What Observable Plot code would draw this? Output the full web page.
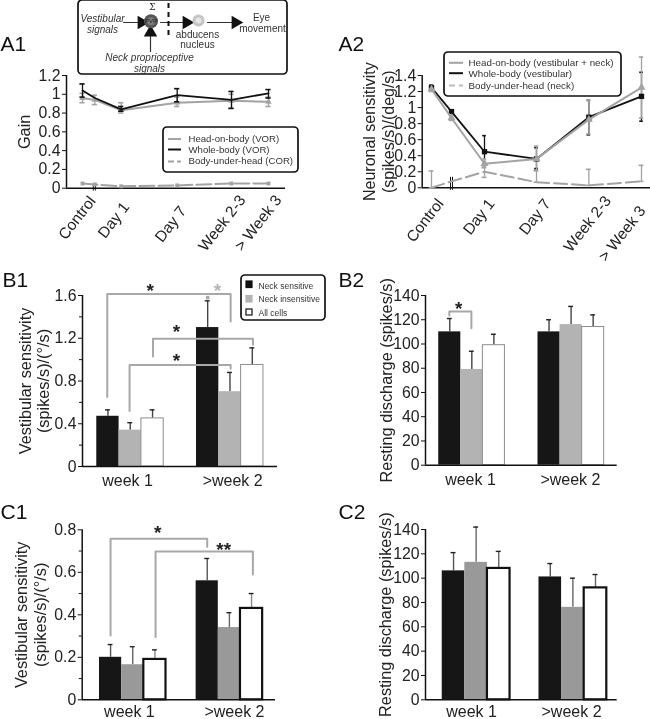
<!DOCTYPE html>
<html>
<head>
<meta charset="utf-8">
<script src="https://cdn.jsdelivr.net/npm/d3@7"></script>
<script src="https://cdn.jsdelivr.net/npm/@observablehq/plot@0.6"></script>
<style>
html,body{margin:0;padding:0;background:#fff}
#page{position:relative;width:650px;height:719px;overflow:hidden;font-family:"Liberation Sans",Arial,sans-serif;filter:blur(0.35px)}
#page svg{position:absolute;max-width:none;overflow:visible}
</style>
</head>
<body>
<div id="page"></div>
<script>
// ---------- DATA: time-course panels (x = session position along the axis)
const sessions = ["Control","Day 1","Day 7","Week 2-3","> Week 3"];

const a1Time   = [16, 28.3, 54.7, 110.7, 165, 202];
const a1Whole  = [1.04, 0.96, 0.84, 0.99, 0.94, 1.01];
const a1WholeHi= [1.11, null, 0.87, 1.06, 1.03, 1.05];
const a1WholeLo= [0.97, null, 0.82, 0.92, 0.85, 0.96];
const a1Head   = [0.96, 0.94, 0.83, 0.91, 0.93, 0.92];
const a1HeadHi = [1.01, 0.99, 0.91, 0.97, 1.00, 0.97];
const a1HeadLo = [0.91, 0.89, 0.80, 0.87, 0.85, 0.87];
const a1Body   = [0.05, 0.04, 0.02, 0.03, 0.05, 0.05];

const a2Time   = [9.3, 29.3, 62.3, 114.3, 166.6, 219.3];
const a2Whole  = [1.25, 0.95, 0.45, 0.36, 0.88, 1.14];
const a2WholeHi= [1.28, 0.97, 0.65, 0.50, 1.09, 1.44];
const a2WholeLo= [1.22, 0.93, 0.30, 0.24, 0.66, 0.83];
const a2Head   = [1.23, 0.87, 0.30, 0.36, 0.85, 1.25];
const a2HeadHi = [1.26, 0.90, 0.36, 0.52, 1.09, 1.63];
const a2HeadLo = [1.20, 0.84, 0.26, 0.21, 0.67, 0.87];
const a2Body   = [0.00, 0.08, 0.20, 0.07, 0.03, 0.08];
const a2BodyHi = [0.21, null, 0.25, 0.22, 0.23, 0.28];
const a2BodyLo = [0.00, null, 0.13, 0.07, 0.03, 0.08];

// ---------- DATA: bar panels (order: sensitive, insensitive, all; week 1 then >week 2)
const groups = ["week 1", ">week 2"];
const b1Means = [0.47, 0.34, 0.45, 1.30, 0.70, 0.95];
const b1Tops  = [0.53, 0.41, 0.53, 1.55, 0.88, 1.11];
const b2Means = [110, 79, 99, 110, 116, 114];
const b2Tops  = [121, 94, 108, 120, 131, 124];
const c1Means = [0.20, 0.165, 0.19, 0.56, 0.34, 0.43];
const c1Tops  = [0.26, 0.25, 0.235, 0.665, 0.41, 0.50];
const c2Means = [106, 113, 108, 101, 76, 92];
const c2Tops  = [121, 142, 122, 112, 100, 103];

// significance brackets: [slot, value] polylines
const b1Brackets = [
  [[0.47,0.65],[0.47,1.615],[6,1.615],[6,1.357]],
  [[2.52,1.03],[2.52,1.195],[7,1.195],[7,1.14]],
  [[1.47,0.52],[1.47,0.95],[6,0.95],[6,0.914]]
];
const b1Stars = [[2.4,1.68,"*","#222"],[5.41,1.68,"*","#b5b5b5"],[3.57,1.3,"*","#222"],[3.57,1.03,"*","#222"]];
const b2Brackets = [[[0.48,123.5],[0.48,126.8],[1.48,126.8],[1.48,113]]];
const b2Stars = [[0.9,132,"*","#222"]];
const c1Brackets = [
  [[0.5,0.303],[0.5,0.758],[4.86,0.758],[4.86,0.72]],
  [[2.53,0.295],[2.53,0.698],[6.92,0.698],[6.92,0.59]]
];
const c1Stars = [[2.63,0.805,"*","#222"],[5.6,0.726,"**","#222"]];

// ---------- LEGEND TEXT
const a1Legend = ["Head-on-body (VOR)","Whole-body (VOR)","Body-under-head (COR)"];
const a2Legend = ["Head-on-body (vestibular + neck)","Whole-body (vestibular)","Body-under-head (neck)"];
const bLegend  = ["Neck sensitive","Neck insensitive","All cells"];

// ---------- helpers
const INK = "#222", GRAY = "#a3a3a3";
const page = document.getElementById("page");
function panel(box, frame, xDomain, yDomain, marks){
  const [bx,by,bw,bh] = box, [l,r,t,b] = frame;
  const svg = Plot.plot({
    width:bw, height:bh,
    marginLeft:l-bx, marginRight:bx+bw-r, marginTop:t-by, marginBottom:by+bh-b,
    x:{domain:xDomain, axis:null}, y:{domain:yDomain, axis:null},
    style:{background:"transparent", fontFamily:'"Liberation Sans",Arial,sans-serif', color:INK},
    marks
  });
  svg.style.left = bx+"px"; svg.style.top = by+"px";
  page.appendChild(svg);
}
const str = d => String(d);
function yAxisMarks(xDomain, yDomain, labelled, minor, fs=15.8){
  return [
    Plot.ruleX([xDomain[0]],{y1:yDomain[0],y2:yDomain[1],stroke:"#111",strokeWidth:1.5}),
    Plot.ruleY([0],{x1:xDomain[0],x2:xDomain[1],stroke:"#111",strokeWidth:1.5}),
    Plot.axisY({ticks:labelled,tickFormat:str,tickSize:4,tickPadding:2,fontSize:fs,stroke:"#111",fill:INK,label:null}),
    ...(minor.length?[Plot.axisY({ticks:minor,tickFormat:()=>"",tickSize:3,stroke:"#111",label:null})]:[])
  ];
}
function yTitle(text, dx, fs=16.3){
  return Plot.text([text],{text:d=>d,frameAnchor:"left",textAnchor:"middle",rotate:-90,dx,fontSize:fs,fill:INK,lineHeight:1.15});
}
function errBars(xs, hi, lo, stroke, capW, sw=1.3){
  const d = xs.map((x,i)=>({x,hi:hi[i],lo:lo[i]})).filter(e=>e.hi!=null);
  return [
    Plot.ruleX(d,{x:"x",y1:"lo",y2:"hi",stroke,strokeWidth:sw}),
    Plot.ruleY(d,{y:"hi",x1:e=>e.x-capW,x2:e=>e.x+capW,stroke,strokeWidth:sw+.3}),
    Plot.ruleY(d,{y:"lo",x1:e=>e.x-capW,x2:e=>e.x+capW,stroke,strokeWidth:sw+.3})
  ];
}
function sessionLabels(xs, dxs, dys){
  return sessions.map((s,i)=>Plot.text([s],{x:()=>xs[i],y:()=>0,text:d=>d,rotate:-52,textAnchor:"end",dx:dxs[i],dy:dys[i],fontSize:15.5,fill:INK}));
}
function lineOf(xs, ys){ return xs.map((x,i)=>({x,y:ys[i]})); }

function barMarks(means, tops, slots, errColors, grayFill, whiteStroke, whiteWidth){
  const rows = means.map((m,i)=>({m,t:tops[i],s:slots[i],k:i%3}));
  return [
    ...rows.map(r=>Plot.ruleX([r],{x:d=>d.s+.5,y1:"m",y2:"t",stroke:errColors[r.k],strokeWidth:1.4})),
    ...rows.map(r=>Plot.ruleY([r],{y:"t",x1:d=>d.s+.39,x2:d=>d.s+.61,stroke:"#222",strokeWidth:1.4})),
    Plot.rect(rows.filter(r=>r.k===0),{x1:"s",x2:d=>d.s+1,y1:()=>0,y2:"m",fill:"#161616"}),
    Plot.rect(rows.filter(r=>r.k===1),{x1:"s",x2:d=>d.s+1,y1:()=>0,y2:"m",fill:grayFill}),
    Plot.rect(rows.filter(r=>r.k===2),{x1:"s",x2:d=>d.s+1,y1:()=>0,y2:"m",fill:"#fff",stroke:whiteStroke,strokeWidth:whiteWidth})
  ];
}
function bracketMarks(brackets, stars){
  return [
    ...brackets.map(b=>Plot.line(b.map(p=>({x:p[0],y:p[1]})),{x:"x",y:"y",stroke:"#a8a8a8",strokeWidth:2,curve:"linear"})),
    ...stars.map(s=>Plot.text([s],{x:d=>d[0],y:d=>d[1],text:d=>d[2],fill:s[3],fontSize:19,fontWeight:"bold",dy:4}))
  ];
}
function groupAxis(slots, pad, fs=16){
  return Plot.axisX({ticks:slots,tickFormat:(d,i)=>groups[i],tickSize:0,tickPadding:pad,fontSize:fs,fill:INK,label:null,anchor:"bottom"});
}

// ---------- A1
{
  const xd=[0,219], yd=[0,1.2];
  panel([0,60,325,205],[66,285,75,187.7],xd,yd,[
    ...yAxisMarks(xd,yd,[0,0.2,0.4,0.6,0.8,1,1.2],[]),
    yTitle("Gain",-43),
    Plot.ruleX([26.8,28.8],{y1:-0.03,y2:0.04,stroke:"#111",strokeWidth:1}),
    ...errBars(a1Time,a1HeadHi,a1HeadLo,GRAY,2.6),
    Plot.line(lineOf(a1Time,a1Head),{x:"x",y:"y",stroke:GRAY,strokeWidth:2}),
    Plot.dot(lineOf(a1Time,a1Head),{x:"x",y:"y",symbol:"triangle",r:2.4,fill:GRAY}),
    ...errBars(a1Time,a1WholeHi,a1WholeLo,"#111",2.6),
    Plot.line(lineOf(a1Time,a1Whole),{x:"x",y:"y",stroke:"#111",strokeWidth:1.8}),
    Plot.line(lineOf(a1Time,a1Body),{x:"x",y:"y",stroke:GRAY,strokeWidth:2,strokeDasharray:"15,4"}),
    Plot.dot(lineOf(a1Time,a1Body),{x:"x",y:"y",symbol:"square",r:2.2,fill:GRAY}),
    ...sessionLabels([a1Time[0],a1Time[2],a1Time[3],a1Time[4],a1Time[5]],[10,5,6,11,10],[10,16,20,9,9])
  ]);
}
// ---------- A2
{
  const xd=[0,228.3], yd=[0,1.4];
  panel([325,40,325,225],[421.7,650,75,187.3],xd,yd,[
    ...yAxisMarks(xd,yd,[0,0.2,0.4,0.6,0.8,1,1.2,1.4],[]),
    yTitle("Neuronal sensitivity\n(spikes/s)/(deg/s)",-43.7,16),
    Plot.ruleX([28.3,30.3],{y1:-0.03,y2:0.13,stroke:"#111",strokeWidth:1}),
    ...errBars(a2Time,a2BodyHi,a2BodyLo,GRAY,2.4),
    Plot.line(lineOf(a2Time,a2Body),{x:"x",y:"y",stroke:GRAY,strokeWidth:2,strokeDasharray:"13,5"}),
    ...errBars(a2Time,a2WholeHi,a2WholeLo,"#111",1.8),
    ...errBars(a2Time,a2HeadHi,a2HeadLo,GRAY,2.2),
    Plot.line(lineOf(a2Time,a2Whole),{x:"x",y:"y",stroke:"#111",strokeWidth:1.8}),
    Plot.dot(lineOf(a2Time,a2Whole),{x:"x",y:"y",symbol:"square",r:3,fill:"#111"}),
    Plot.line(lineOf(a2Time,a2Head),{x:"x",y:"y",stroke:GRAY,strokeWidth:2}),
    Plot.dot(lineOf(a2Time,a2Head),{x:"x",y:"y",symbol:"triangle",r:3,fill:GRAY}),
    ...sessionLabels([a2Time[0],a2Time[2],a2Time[3],a2Time[4],a2Time[5]],[9,7,11,19,1],[13,13,13,10,20])
  ]);
}
// ---------- B1
{
  const xd=[-0.64,8.1], yd=[0,1.6];
  const slots=[0,1,2,4.47,5.47,6.47];
  panel([0,265,325,225],[82,277,295,466],xd,yd,[
    ...barMarks(b1Means,b1Tops,slots,["#444","#444","#444"],"#b3b3b3","#8c8c8c",1),
    ...yAxisMarks(xd,yd,[0,0.4,0.8,1.2,1.6],[0.2,0.6,1,1.4]),
    yTitle("Vestibular sensitivity\n(spikes/s)/(°/s)",-48.5),
    groupAxis([1.38,6.09],8),
    Plot.dot([{x:4.97,y:1.58}],{x:"x",y:"y",symbol:"square",r:2,fill:"#aaa"}),
    ...bracketMarks(b1Brackets,b1Stars)
  ]);
}
// ---------- B2
{
  const xd=[-0.6,8.09], yd=[0,140];
  const slots=[0,1,2,4.5,5.5,6.5];
  panel([325,265,325,225],[425,616.7,295,464.7],xd,yd,[
    ...barMarks(b2Means,b2Tops,slots,["#444","#444","#444"],"#b3b3b3","#8c8c8c",1),
    ...yAxisMarks(xd,yd,[0,20,40,60,80,100,120,140],[]),
    yTitle("Resting discharge (spikes/s)",-40),
    groupAxis([1.44,5.97],8),
    ...bracketMarks(b2Brackets,b2Stars)
  ]);
}
// ---------- C1
{
  const xd=[-0.78,7.94], yd=[0,0.8];
  const slots=[0,1,2,4.36,5.36,6.36];
  panel([0,495,325,224],[81.7,275,529.3,699.3],xd,yd,[
    ...barMarks(c1Means,c1Tops,slots,["#555","#666","#888"],"#999","#111",2.2),
    ...yAxisMarks(xd,yd,[0,0.2,0.4,0.6,0.8],[0.1,0.3,0.5,0.7]),
    yTitle("Vestibular sensitivity\n(spikes/s)/(°/s)",-51.7),
    groupAxis([1.35,6.09],6),
    ...bracketMarks(c1Brackets,c1Stars)
  ]);
}
// ---------- C2
{
  const xd=[-0.74,7.74], yd=[0,140];
  const slots=[0,1,2,4.28,5.28,6.28];
  panel([325,495,325,224],[425,616.7,529,699.3],xd,yd,[
    ...barMarks(c2Means,c2Tops,slots,["#555","#666","#666"],"#999","#111",2.2),
    ...yAxisMarks(xd,yd,[0,20,40,60,80,100,120,140],[]),
    yTitle("Resting discharge (spikes/s)",-41),
    groupAxis([1.3,5.72],6),
  ]);
}

// ---------- annotation layer: panel letters, schematic, legends (page coordinates)
const panelLetters = [["A1",0,50],["A2",338,50],["B1",2,286],["B2",338,286],["C1",0,518],["C2",338,518]];
const boxes = [[78,0,287,74],[163,127,298,172],[444,52,621,96],[241,275,325,320]];
const schematicText = [
  ["Vestibular",102,18,"italic"],["signals",102,29,"italic"],
  ["Neck proprioceptive",149,57,"italic"],["signals",149,68,"italic"],
  ["abducens",197,34,"normal"],["nucleus",197,44,"normal"],
  ["Eye",261,17,"normal"],["movement",262,28,"normal"]
];
const arrows = [[[123,22],[141,22]],[[160,22],[186,22]],[[207,22],[235,22]]];
const upArrow = [[150,51],[150,32]];
const a1Swatch = [[168,181,138.5,GRAY,"none"],[168,181,149,"#111","none"],[168,181,161,GRAY,"6,3"]];
const a2Swatch = [[449,463,62.3,GRAY,"none"],[449,463,72.7,"#111","none"],[449,463,85,"#bbb","6,4"]];
const overlay = Plot.plot({
  width:650,height:719,margin:0,
  x:{domain:[0,650],axis:null},y:{domain:[0,719],reverse:true,axis:null},
  style:{background:"transparent",fontFamily:'"Liberation Sans",Arial,sans-serif',color:INK},
  marks:[
    Plot.rect(boxes,{x1:d=>d[0],x2:d=>d[2],y1:d=>d[1],y2:d=>d[3],rx:4,fill:"none",stroke:"#111",strokeWidth:1.7}),
    Plot.text(panelLetters,{x:d=>d[1],y:d=>d[2],text:d=>d[0],fontSize:21,textAnchor:"start",lineAnchor:"bottom",fill:"#111"}),
    // schematic
    ...arrows.map(a=>Plot.line(a,{x:d=>d[0],y:d=>d[1],stroke:"#333",strokeWidth:1.2})),
    Plot.dot(arrows,{x:d=>d[1][0],y:d=>d[1][1],symbol:"triangle",rotate:90,r:5,fill:"#111"}),
    Plot.line(upArrow,{x:d=>d[0],y:d=>d[1],stroke:"#333",strokeWidth:1.2}),
    Plot.dot([upArrow[1]],{x:d=>d[0],y:d=>d[1],symbol:"triangle",r:5,fill:"#111"}),
    Plot.dot([[150.5,20.7]],{x:d=>d[0],y:d=>d[1],r:7,fill:"#555"}),
    Plot.dot([[150.5,20.7]],{x:d=>d[0],y:d=>d[1],r:4,fill:"#7d7d7d"}),
    Plot.text(["PVP"],{x:()=>150.5,y:()=>21,text:d=>d,fontSize:6,fill:"#222"}),
    Plot.text(["Σ"],{x:()=>152,y:()=>7,text:d=>d,fontSize:9,fill:"#222",fontFamily:"DejaVu Serif"}),
    Plot.dot([[198,20]],{x:d=>d[0],y:d=>d[1],r:6,fill:"#c4c4c4"}),
    Plot.dot([[198,20]],{x:d=>d[0],y:d=>d[1],r:3,fill:"#e6e6e6"}),
    Plot.ruleX([168],{y1:()=>3,y2:()=>38,stroke:"#111",strokeWidth:2,strokeDasharray:"5,4"}),
    ...["italic","normal"].map(st=>Plot.text(schematicText.filter(d=>d[3]===st),{x:d=>d[1],y:d=>d[2],text:d=>d[0],fontSize:10,fontStyle:st,fill:"#333"})),
    // A1 legend
    ...a1Swatch.map(s=>Plot.ruleY([s[2]],{x1:()=>s[0],x2:()=>s[1],stroke:s[3],strokeWidth:2,strokeDasharray:s[4]})),
    Plot.text(a1Legend,{x:()=>188,y:(d,i)=>[138.5,149,160][i],text:d=>d,fontSize:9.6,textAnchor:"start",fill:"#333"}),
    // A2 legend
    ...a2Swatch.map(s=>Plot.ruleY([s[2]],{x1:()=>s[0],x2:()=>s[1],stroke:s[3],strokeWidth:2,strokeDasharray:s[4]})),
    Plot.text(a2Legend,{x:()=>468,y:(d,i)=>[62,73,85][i],text:d=>d,fontSize:9.8,textAnchor:"start",fill:"#333"}),
    // B1 legend
    Plot.rect(bLegend,{x1:()=>246,x2:()=>252,y1:(d,i)=>[281,295.5,309][i],y2:(d,i)=>[287.5,302,315][i],
      fill:(d,i)=>["#111","#b3b3b3","#fff"][i],stroke:(d,i)=>["#111","#b3b3b3","#111"][i],strokeWidth:1.2}),
    Plot.text(bLegend,{x:()=>258,y:(d,i)=>[285.5,299,312.5][i],text:d=>d,fontSize:8.5,textAnchor:"start",fill:"#333"})
  ]
});
overlay.style.left="0";overlay.style.top="0";
page.appendChild(overlay);
</script>
</body>
</html>
